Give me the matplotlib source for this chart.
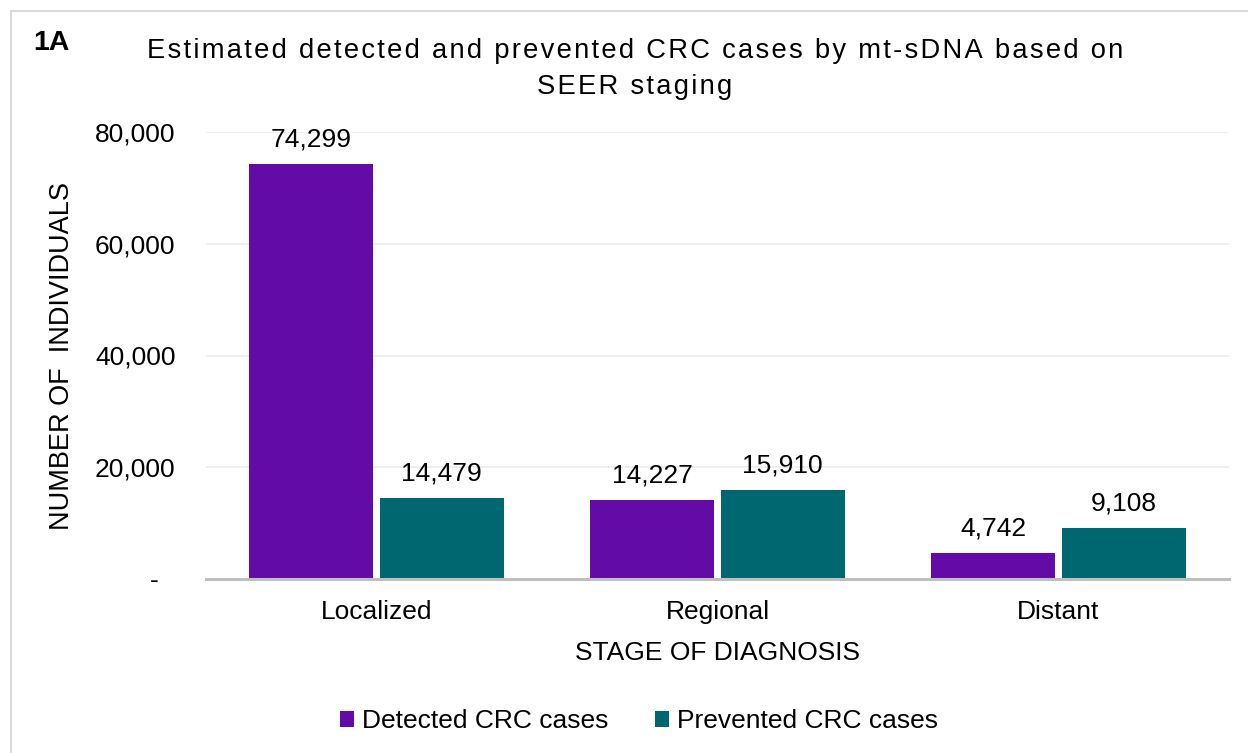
import matplotlib
matplotlib.use("Agg")
import numpy as np
import matplotlib.pyplot as plt
from matplotlib.patches import Rectangle

# data
stages = ["Localized", "Regional", "Distant"]
detected = [74299, 14227, 4742]
prevented = [14479, 15910, 9108]
series_names = ["Detected CRC cases", "Prevented CRC cases"]
yticks = [0, 20000, 40000, 60000, 80000]
ytick_labels = ["-  \u200a", "20,000", "40,000", "60,000", "80,000"]
title_lines = ["Estimated detected and prevented CRC cases by mt-sDNA based on",
               "SEER staging"]

PURPLE = "#630BA7"
TEAL = "#00666F"
FS = 19

plt.rcParams["font.family"] = ["Liberation Sans", "DejaVu Sans"]

fig = plt.figure(figsize=(12.48, 7.53), dpi=100)
ax = fig.add_axes([206 / 1248, 1 - 579 / 753, (1229 - 206) / 1248, (579 - 132) / 753])

# outer frame (open on right and bottom like the reference crop)
fig.patches.append(Rectangle((11 / 1248, -0.05), 1.2, 1 - 11 / 753 + 0.05,
                             transform=fig.transFigure, fill=False,
                             edgecolor="#d9d9d9", linewidth=1.5))

x = np.arange(len(stages))
width = 0.364
off = 0.191
b1 = ax.bar(x - off, detected, width, color=PURPLE, label=series_names[0], zorder=3)
b2 = ax.bar(x + off, prevented, width, color=TEAL, label=series_names[1], zorder=3)

for bars, vals in ((b1, detected), (b2, prevented)):
    for rect, v in zip(bars, vals):
        ax.annotate(f"{v:,}", (rect.get_x() + rect.get_width() / 2, v),
                    xytext=(0, 9), textcoords="offset points",
                    ha="center", va="bottom", fontsize=FS)

ax.set_xlim(-0.5, 2.5)
ax.set_ylim(0, 80000)
ax.set_yticks(yticks)
ax.set_yticklabels(ytick_labels, fontsize=FS)
ax.set_xticks(x)
ax.set_xticklabels(stages, fontsize=FS)
ax.tick_params(axis="y", length=0, pad=22)
ax.tick_params(axis="x", length=0, pad=15)
ax.yaxis.grid(True, color="#ececec", linewidth=1.2, zorder=0)
for s in ("top", "right", "left"):
    ax.spines[s].set_visible(False)
ax.spines["bottom"].set_color("#bfbfbf")
ax.spines["bottom"].set_linewidth(2.2)
ax.spines["bottom"].set_zorder(4)

ax.set_xlabel("STAGE OF DIAGNOSIS", fontsize=FS, labelpad=12)
ax.set_ylabel("NUMBER OF  INDIVIDUALS", fontsize=FS + 0.5, labelpad=14)

# letter-spaced title, hair spaces give the tracking seen in the reference
title = "\n".join("\u200a".join(line) for line in title_lines)
fig.text(635 / 1248, 1 - 69 / 753, title, ha="center", va="center",
         fontsize=19.7, linespacing=1.45)
fig.text(33 / 1248, 1 - 43 / 753, "1A", ha="left", va="center",
         fontsize=20.5, fontweight="bold")

fig.legend(loc="center", bbox_to_anchor=(639 / 1248, 1 - 721 / 753), ncol=2,
           frameon=False, fontsize=FS, handlelength=0.55, handleheight=0.55,
           handletextpad=0.3, columnspacing=1.75)

fig.savefig("out.png", dpi=100)
